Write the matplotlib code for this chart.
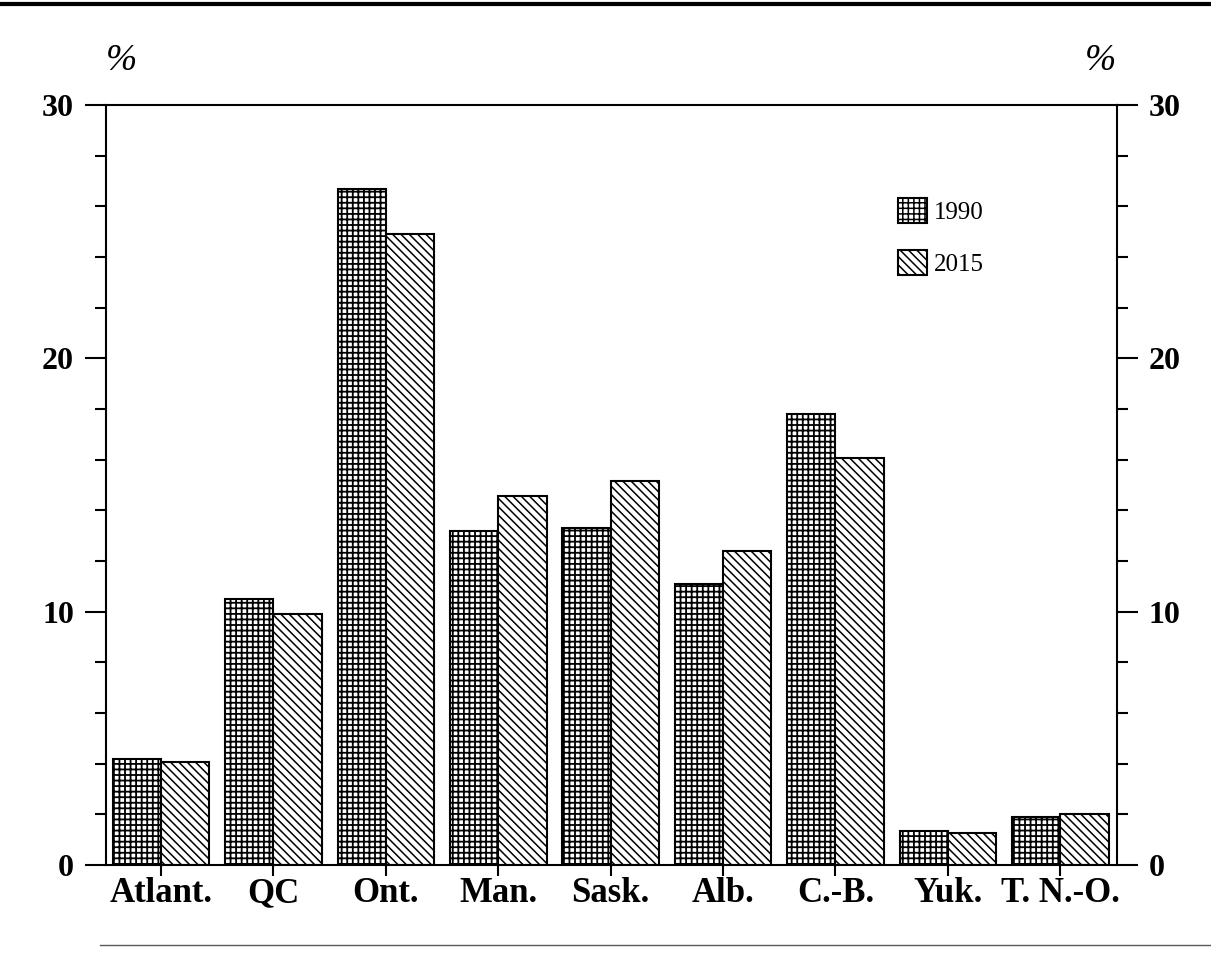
import numpy as np
import matplotlib
matplotlib.use("Agg")
import matplotlib.pyplot as plt
from matplotlib.ticker import MultipleLocator
from matplotlib.lines import Line2D

# values (% share by region)
regions = ["Atlant.", "QC", "Ont.", "Man.", "Sask.", "Alb.", "C.-B.", "Yuk.", "T. N.-O."]
share_1990 = [4.2, 10.5, 26.7, 13.2, 13.3, 11.1, 17.8, 1.35, 1.9]
share_2015 = [4.07, 9.9, 24.9, 14.55, 15.15, 12.4, 16.05, 1.27, 2.0]
series_labels = ["1990", "2015"]

W, H = 1211, 959
plt.rcParams["font.family"] = ["Liberation Serif", "DejaVu Serif"]
plt.rcParams["hatch.color"] = "black"

fig = plt.figure(figsize=(W / 100, H / 100), dpi=100)
ax = fig.add_axes([106 / W, 1 - 865 / H, (1117 - 106) / W, (865 - 105) / H])

x = np.arange(len(regions))
bw = 0.43
plt.rcParams["hatch.linewidth"] = 1.3
ax.bar(x - bw / 2, share_1990, bw, facecolor="white", edgecolor="black",
       linewidth=1.5, hatch="+++", label=series_labels[0])
plt.rcParams["hatch.linewidth"] = 1.1
ax.bar(x + bw / 2, share_2015, bw, facecolor="white", edgecolor="black",
       linewidth=1.5, hatch="\\\\\\\\", label=series_labels[1])

ax.set_xlim(-0.49, 8.505)
ax.set_ylim(0, 30)
ax.set_xticks(x)
ax.set_xticklabels(regions, fontsize=25, fontweight="bold")
ax.set_yticks([0, 10, 20, 30])
ax.yaxis.set_minor_locator(MultipleLocator(2))

for s in ax.spines.values():
    s.set_linewidth(1.5)

ax.tick_params(axis="x", direction="out", length=8, width=1.5, pad=1)
ax.tick_params(axis="y", which="major", direction="out", length=15, width=1.5,
               left=True, right=True, labelleft=True, labelright=True,
               labelsize=23, pad=8)
ax.tick_params(axis="y", which="minor", direction="out", length=8, width=1.5,
               left=True, right=True)
for lab in ax.get_yticklabels():
    lab.set_fontweight("bold")

ax.legend(loc="upper left", bbox_to_anchor=(898 / W, 1 - 198 / H),
          bbox_transform=fig.transFigure, frameon=False, fontsize=18,
          handlelength=1.15, handleheight=1.15, handletextpad=0.3,
          labelspacing=1.05, borderpad=0, borderaxespad=0)

fig.text(121 / W, 1 - 61 / H, "%", fontsize=27, style="italic",
         ha="center", va="center")
fig.text(1100 / W, 1 - 61 / H, "%", fontsize=27, style="italic",
         ha="center", va="center")

# scan frame lines
fig.add_artist(Line2D([0, 1], [1 - 4 / H] * 2, lw=3, color="black",
                      transform=fig.transFigure))
fig.add_artist(Line2D([100 / W, 1], [1 - 945 / H] * 2, lw=1, color="0.35",
                      transform=fig.transFigure))

fig.savefig("out.png", dpi=100)
